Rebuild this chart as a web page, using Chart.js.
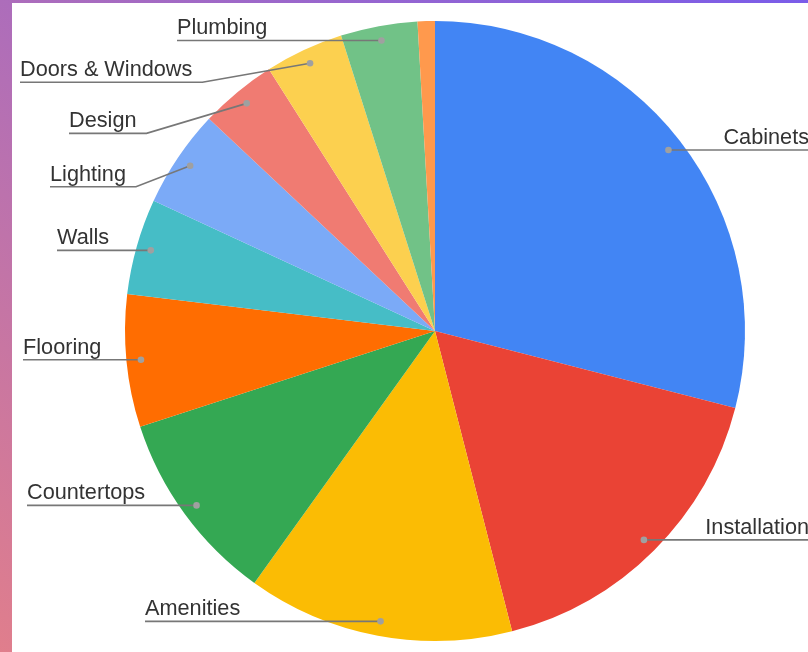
<!DOCTYPE html>
<html>
<head>
<meta charset="utf-8">
<script src="https://cdn.jsdelivr.net/npm/chart.js@4.4.0/dist/chart.umd.min.js"></script>
<style>
  html, body { margin: 0; padding: 0; }
  body {
    width: 808px; height: 652px; overflow: hidden; position: relative;
    background: linear-gradient(to bottom left, #7a5ce9, #e07e8c);
  }
  #box { position: absolute; left: 12px; top: 3px; width: 796px; height: 649px; background: #fff; }
  canvas { display: block; }
</style>
</head>
<body>
<div id="box"><canvas id="pie" width="796" height="649"></canvas></div>
<script>
// slice data (share of total, %), clockwise from 12 o'clock
const categories = ["Cabinets", "Installation", "Amenities", "Countertops", "Flooring", "Walls",
  "Lighting", "Design", "Doors & Windows", "Plumbing", "Other"]
const values = [29.0, 17.0, 13.9, 10.1, 6.9, 5.0, 5.1, 4.0, 4.1, 4.0, 0.9]
const colors = ["#4285f4", "#ea4335", "#fbbc04", "#34a853", "#ff6d01", "#46bdc6",
  "#7baaf7", "#f07b72", "#fcd04f", "#71c287", "#ff994d"]

// label layout (left-side text x, and how far a crowded label is pushed down)
const labelLeft = [0, 0, 133, 15, 11, 45, 38, 57, 8, 165, 0]
const labelDrop = [0, 0, 0, 0, 0, 0, 21, 30, 19, 0, 0]

const leaderLabels = {
  id: "leaderLabels",
  afterDatasetsDraw(chart) {
    const ctx = chart.ctx
    const meta = chart.getDatasetMeta(0)
    ctx.save()
    ctx.font = '21.7px "Liberation Sans", Arial, sans-serif'
    ctx.textBaseline = "alphabetic"
    meta.data.forEach((arc, i) => {
      if (values[i] < 2) return // too thin to label
      const p = arc.getProps(["x", "y", "startAngle", "endAngle", "outerRadius"], true)
      const mid = (p.startAngle + p.endAngle) / 2
      const px = p.x + Math.cos(mid) * p.outerRadius * 0.953
      const py = p.y + Math.sin(mid) * p.outerRadius * 0.953
      const lineY = py + labelDrop[i]

      ctx.strokeStyle = "#777"
      ctx.lineWidth = 1.6
      ctx.beginPath()
      if (Math.cos(mid) > 0) {
        ctx.moveTo(px, py)
        ctx.lineTo(chart.width, lineY)
        ctx.stroke()
        ctx.fillStyle = "#333"
        ctx.textAlign = "right"
        ctx.fillText(categories[i], chart.width + 1, lineY - 6)
      } else {
        const tx = labelLeft[i]
        const w = ctx.measureText(categories[i]).width
        ctx.moveTo(tx, lineY)
        if (labelDrop[i]) ctx.lineTo(tx + w + 10, lineY)
        ctx.lineTo(px, py)
        ctx.stroke()
        ctx.fillStyle = "#333"
        ctx.textAlign = "left"
        ctx.fillText(categories[i], tx, lineY - 6)
      }
      ctx.fillStyle = "#a0a0a0"
      ctx.beginPath()
      ctx.arc(px, py, 3.3, 0, Math.PI * 2)
      ctx.fill()
    })
    ctx.restore()
  },
}

new Chart(document.getElementById("pie"), {
  type: "pie",
  data: {
    labels: categories,
    datasets: [{
      data: values,
      backgroundColor: colors,
      borderWidth: 0,
    }],
  },
  options: {
    responsive: false,
    animation: false,
    layout: { padding: { left: 100, right: 50, top: 18, bottom: 11 } },
    plugins: { legend: { display: false }, tooltip: { enabled: false } },
  },
  plugins: [leaderLabels],
})
</script>
</body>
</html>
